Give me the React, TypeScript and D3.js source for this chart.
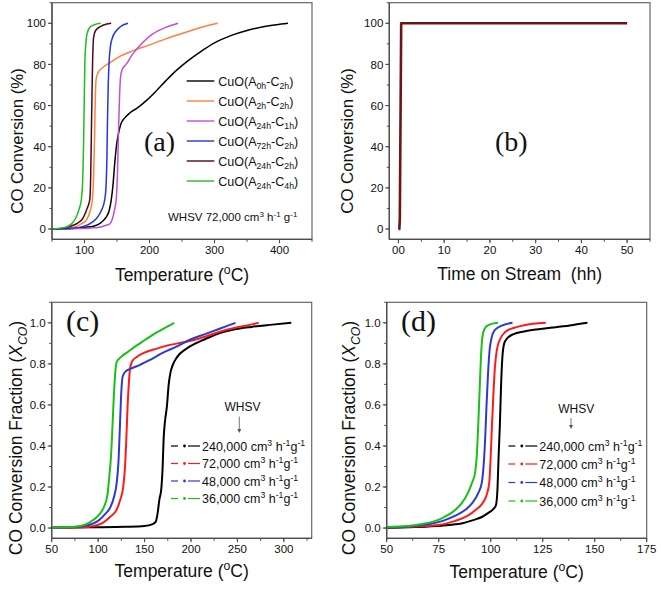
import React from 'react';
import * as d3 from 'd3';

const FONT = '"Liberation Sans", Arial, Helvetica, sans-serif';
const SERIF = '"Liberation Serif", "Times New Roman", serif';

type Pt = [number, number];

// ---------- Panel (a): light-off curves, CO conversion (%) vs temperature (°C)
const aA0hC2h: Pt[] = [[50,0],[80,0.3],[100,0.8],[115,1.5],[125,3],[133,5.6],[138,9],[141,13.8],[144,22],[146,30],[149,40],[152,46],[156,51],[162,54],[170,56.5],[182,59],[195,62.4],[210,67],[225,72],[241,77],[260,82],[280,86.5],[300,90.5],[325,94],[350,96.5],[375,98.3],[395,99.3],[413,100]];
const aA2hC2h: Pt[] = [[50,0],[70,0.3],[85,1],[95,2.5],[102,4],[108,8],[112,14],[114,25],[115.5,45],[116.5,62],[118,73],[121,76],[128,78.5],[140,81],[155,84],[175,86.7],[200,89.5],[225,92.4],[250,95],[276,97.7],[290,98.9],[305,100]];
const aA24hC1h: Pt[] = [[50,0],[90,0.2],[110,0.5],[125,1],[133,1.8],[138.5,2.4],[143,5],[146,9],[149,15],[151,30],[152.5,50],[154,65],[155.5,74],[158,77.5],[164,80],[174,85],[190,90.8],[205,94.8],[225,98],[244,100]];
const aA72hC2h: Pt[] = [[50,0],[70,0.2],[92,0.8],[105,2],[118,5],[126,9],[131,14],[133,20],[134.5,35],[135.5,55],[136.5,70],[138,82],[140,89],[143,93],[148,96],[155,98.3],[167,100]];
const aA24hC2h: Pt[] = [[50,0],[65,0.3],[80,1.5],[90,3],[97,5],[104,10],[108,14],[109.5,25],[110.5,45],[111.5,65],[112.5,82],[114,93],[117,96.5],[125,98.5],[133,99.5],[141,100]];
const aA24hC4h: Pt[] = [[50,0],[60,0.3],[70,0.8],[80,2.5],[87,5.6],[92,10],[95,14],[97,22],[98.5,40],[99.5,60],[100.5,80],[102,90],[104,95],[108,98],[115,99.3],[125,100]];
const aSubA = ['0h', '2h', '24h', '72h', '24h', '24h'];
const aSubC = ['2h', '2h', '1h', '2h', '2h', '4h'];
const aColors = ['#000000', '#ff8040', '#c04fd8', '#2338d8', '#4a0a18', '#22bb22'];
const aXTicks = [100, 200, 300, 400];
const aYTicks = [0, 20, 40, 60, 80, 100];

// ---------- Panel (b): stability, CO conversion (%) vs time on stream
const bSeries: Pt[] = [[0,0],[0.2,0],[0.3,5],[0.6,100],[10,100],[20,100],[30,100],[40,100],[50,100]];
const bXTicks = [0, 10, 20, 30, 40, 50];
const bXLabels = ['00', '10', '20', '30', '40', '50'];
const bYTicks = [0, 20, 40, 60, 80, 100];

// ---------- Panel (c): X_CO vs temperature, four WHSV
const c240k: Pt[] = [[50,0.003],[100,0.004],[130,0.006],[150,0.01],[158,0.018],[162,0.03],[164,0.07],[166,0.14],[168,0.19],[169.5,0.3],[170.5,0.43],[172,0.52],[174,0.59],[176,0.7],[178,0.76],[180,0.79],[185,0.833],[195,0.874],[205,0.9],[215,0.92],[228,0.945],[246,0.967],[265,0.98],[285,0.99],[308,1.0]];
const c72k: Pt[] = [[50,0],[80,0.003],[95,0.01],[105,0.025],[113,0.055],[120,0.09],[124,0.14],[127,0.2],[129,0.3],[130.5,0.45],[131.8,0.6],[133,0.7],[134.5,0.78],[137,0.815],[142,0.835],[150,0.855],[160,0.87],[175,0.89],[192,0.905],[210,0.925],[230,0.955],[250,0.978],[263,0.99],[273,1.0]];
const c48k: Pt[] = [[50,0],[75,0.005],[90,0.015],[100,0.035],[108,0.07],[113,0.1],[117,0.15],[120,0.22],[122,0.33],[123.5,0.5],[124.8,0.65],[126.5,0.74],[130,0.765],[137,0.78],[145,0.795],[156,0.82],[170,0.855],[185,0.885],[200,0.92],[215,0.945],[230,0.97],[248,1.0]];
const c36k: Pt[] = [[50,0.002],[70,0.005],[85,0.015],[95,0.04],[102,0.07],[106,0.1],[110,0.16],[112,0.25],[114,0.36],[115.5,0.5],[117,0.65],[118.5,0.76],[120,0.81],[125,0.835],[131,0.855],[140,0.885],[150,0.915],[160,0.945],[170,0.97],[182,1.0]];
const cXTicks = [50, 100, 150, 200, 250, 300];
const cdYTicks = [0, 0.2, 0.4, 0.6, 0.8, 1.0];

// ---------- Panel (d)
const d240k: Pt[] = [[50,0],[60,0.004],[70,0.008],[80,0.015],[87,0.025],[92,0.04],[96,0.055],[99,0.075],[101,0.09],[102.5,0.11],[103.3,0.2],[103.8,0.35],[104.4,0.5],[105,0.7],[105.6,0.83],[106.5,0.9],[108,0.925],[111,0.945],[116,0.958],[122,0.968],[130,0.977],[138,0.987],[146.5,1.0]];
const d72k: Pt[] = [[50,0],[65,0.008],[75,0.015],[83,0.035],[89,0.06],[93,0.09],[96,0.12],[98,0.16],[99.3,0.22],[100,0.35],[100.6,0.5],[101.3,0.65],[102,0.78],[103,0.87],[104.5,0.92],[107,0.955],[111,0.975],[116,0.988],[126.5,1.0]];
const d48k: Pt[] = [[50,0],[60,0.008],[70,0.018],[77,0.035],[83,0.06],[88,0.09],[91,0.12],[94,0.17],[95.7,0.22],[96.7,0.32],[97.4,0.45],[98,0.6],[98.7,0.75],[99.5,0.87],[100.5,0.93],[102,0.965],[105,0.985],[110.5,1.0]];
const d36k: Pt[] = [[50,0.005],[60,0.01],[67,0.02],[72,0.03],[77,0.05],[82,0.08],[86,0.12],[89,0.17],[91,0.22],[92.5,0.27],[93.3,0.35],[94,0.5],[94.7,0.68],[95.3,0.83],[96,0.93],[97,0.97],[99,0.99],[103.5,1.0]];
const dXTicks = [50, 75, 100, 125, 150, 175];

const whsvLabels = ['240,000', '72,000', '48,000', '36,000'];
const whsvColors = ['#000000', '#ff1a1a', '#2b3bd0', '#18c018'];

type Part = { t: string; sub?: boolean; sup?: boolean; it?: boolean };

function rich(parts: Part[], fs: number) {
  let off = 0;
  return parts.map((p, i) => {
    const target = p.sub ? 0.3 * fs : p.sup ? -0.38 * fs : 0;
    const dy = target - off;
    off = target;
    return (
      <tspan key={i} dy={dy} fontSize={p.sub || p.sup ? fs * 0.7 : fs} fontStyle={p.it ? 'italic' : undefined}>
        {p.t}
      </tspan>
    );
  });
}

type Box = { l: number; r: number; t: number; b: number };

const TICK_FS = 11.5;

function Frame(props: {
  box: Box;
  x: d3.ScaleLinear<number, number>;
  y: d3.ScaleLinear<number, number>;
  xTicks: number[];
  xLabels?: string[];
  xMinorStep: number;
  yTicks: number[];
  yFmt: (v: number) => string;
  yMinorStep: number;
}) {
  const { box, x, y, xTicks, xLabels, xMinorStep, yTicks, yFmt, yMinorStep } = props;
  const [x0, x1] = x.domain();
  const [y0, y1] = y.domain();
  const xMinor = d3.range(Math.ceil(x0 / xMinorStep) * xMinorStep, x1 + 1e-9, xMinorStep);
  const yMinor = d3.range(Math.ceil(y0 / yMinorStep - 1e-9) * yMinorStep, y1 + 1e-9, yMinorStep);
  const ax = '#4d4d4d';
  return (
    <g>
      <rect x={box.l} y={box.t} width={box.r - box.l} height={box.b - box.t} fill="none" stroke="#666" strokeWidth={1.2} />
      <line x1={box.l} x2={box.l} y1={box.t} y2={box.b} stroke={ax} strokeWidth={1.3} />
      <line x1={box.l} x2={box.r} y1={box.b} y2={box.b} stroke={ax} strokeWidth={1.3} />
      {xMinor.map((v, i) => (
        <line key={'xm' + i} x1={x(v)} x2={x(v)} y1={box.b} y2={box.b + 2.5} stroke={ax} strokeWidth={1} />
      ))}
      {xTicks.map((v, i) => (
        <g key={'xt' + i}>
          <line x1={x(v)} x2={x(v)} y1={box.b} y2={box.b + 4} stroke={ax} strokeWidth={1.1} />
          <text x={x(v)} y={box.b + 14.8} textAnchor="middle" fontFamily={FONT} fontSize={TICK_FS} fill="#111">
            {xLabels ? xLabels[i] : String(v)}
          </text>
        </g>
      ))}
      {yMinor.map((v, i) => (
        <line key={'ym' + i} x1={box.l - 2.5} x2={box.l} y1={y(v)} y2={y(v)} stroke={ax} strokeWidth={1} />
      ))}
      {yTicks.map((v, i) => (
        <g key={'yt' + i}>
          <line x1={box.l - 4} x2={box.l} y1={y(v)} y2={y(v)} stroke={ax} strokeWidth={1.1} />
          <text x={box.l - 6} y={y(v)} dy="0.36em" textAnchor="end" fontFamily={FONT} fontSize={TICK_FS} fill="#111">
            {yFmt(v)}
          </text>
        </g>
      ))}
    </g>
  );
}

function Curves(props: { series: Pt[][]; colors: string[]; x: any; y: any; width: number; curve?: any }) {
  const line = d3
    .line<Pt>()
    .x((d) => props.x(d[0]))
    .y((d) => props.y(d[1]))
    .curve(props.curve || d3.curveMonotoneX);
  return (
    <g>
      {props.series.map((s, i) => (
        <path key={i} d={line(s) || ''} fill="none" stroke={props.colors[i]} strokeWidth={props.width} strokeLinejoin="round" />
      ))}
    </g>
  );
}

function WhsvLegend(props: { x0: number; rows: number[]; titleX: number; titleY: number; arrowX: number; arrowY0: number; arrowY1: number }) {
  const { x0, rows, titleX, titleY, arrowX, arrowY0, arrowY1 } = props;
  return (
    <g fontFamily={FONT}>
      <text x={titleX} y={titleY} textAnchor="middle" fontSize={12} fill="#111">WHSV</text>
      <line x1={arrowX} x2={arrowX} y1={arrowY0} y2={arrowY1 - 3} stroke="#555" strokeWidth={0.8} />
      <path d={`M${arrowX - 2},${arrowY1 - 4} L${arrowX + 2},${arrowY1 - 4} L${arrowX},${arrowY1} Z`} fill="#555" />
      {rows.map((ry, i) => (
        <g key={i}>
          <line x1={x0} x2={x0 + 7} y1={ry} y2={ry} stroke={whsvColors[i]} strokeWidth={1.2} />
          <circle cx={x0 + 13.5} cy={ry} r={1.4} fill={whsvColors[i]} />
          <line x1={x0 + 17} x2={x0 + 29} y1={ry} y2={ry} stroke={whsvColors[i]} strokeWidth={1.2} />
          <text x={x0 + 31} y={ry + 4.5} fontSize={12.5} fill="#111">
            {rich(
              [
                { t: whsvLabels[i] + ' cm' },
                { t: '3', sup: true },
                { t: ' h' },
                { t: '-1', sup: true },
                { t: 'g' },
                { t: '-1', sup: true },
              ],
              12.5
            )}
          </text>
        </g>
      ))}
    </g>
  );
}

const tempTitle = (fs: number) => rich([{ t: 'Temperature (' }, { t: 'o', sup: true }, { t: 'C)' }], fs);
const fracTitle = (fs: number) =>
  rich([{ t: 'CO Conversion Fraction (' }, { t: 'X', it: true }, { t: 'CO', sub: true, it: true }, { t: ')' }], fs);

export default function App() {
  // Panel boxes
  const bxA: Box = { l: 52, r: 312, t: 2.7, b: 239.3 };
  const bxB: Box = { l: 389.3, r: 650, t: 2.7, b: 239.3 };
  const bxC: Box = { l: 51.7, r: 311.7, t: 302.3, b: 538.3 };
  const bxD: Box = { l: 386.7, r: 646.7, t: 302.3, b: 538.3 };

  const xA = d3.scaleLinear().domain([50, 450]).range([bxA.l, bxA.r]);
  const yA = d3.scaleLinear().domain([-5, 110]).range([bxA.b, bxA.t]);
  const xB = d3.scaleLinear().domain([-2, 55]).range([bxB.l, bxB.r]);
  const yB = d3.scaleLinear().domain([-5, 110]).range([bxB.b, bxB.t]);
  const xC = d3.scaleLinear().domain([50, 330]).range([bxC.l, bxC.r]);
  const yC = d3.scaleLinear().domain([-0.05, 1.1]).range([bxC.b, bxC.t]);
  const xD = d3.scaleLinear().domain([50, 175]).range([bxD.l, bxD.r]);
  const yD = d3.scaleLinear().domain([-0.05, 1.1]).range([bxD.b, bxD.t]);

  const aSeries = [aA0hC2h, aA2hC2h, aA24hC1h, aA72hC2h, aA24hC2h, aA24hC4h];
  const cSeries = [c240k, c72k, c48k, c36k];
  const dSeries = [d240k, d72k, d48k, d36k];
  const fmt1 = d3.format('.1f');

  return (
    <svg width={661} height={591} style={{ position: 'absolute', left: 0, top: 0, background: '#fff' }}>
      <rect x={0} y={0} width={661} height={591} fill="#fff" />

      {/* ---------- (a) ---------- */}
      <Curves series={aSeries} colors={aColors} x={xA} y={yA} width={1.5} />
      <Frame box={bxA} x={xA} y={yA} xTicks={aXTicks} xMinorStep={50} yTicks={aYTicks} yFmt={(v) => String(v)} yMinorStep={10} />
      <g fontFamily={FONT}>
        {aColors.map((c, i) => {
          const ry = 81 + i * 20;
          return (
            <g key={i}>
              <line x1={186.7} x2={214.3} y1={ry} y2={ry} stroke={c} strokeWidth={1.4} />
              <text x={218.3} y={ry + 4.5} fontSize={12.5} fill="#111">
                {rich([{ t: 'CuO(A' }, { t: aSubA[i], sub: true }, { t: '-C' }, { t: aSubC[i], sub: true }, { t: ')' }], 12.5)}
              </text>
            </g>
          );
        })}
        <text x={168} y={221} fontSize={11.5} fill="#111">
          {rich([{ t: 'WHSV 72,000 cm' }, { t: '3', sup: true }, { t: ' h' }, { t: '-1', sup: true }, { t: ' g' }, { t: '-1', sup: true }], 11.5)}
        </text>
        <text x={(bxA.l + bxA.r) / 2} y={281} textAnchor="middle" fontSize={17.5} fill="#111">{tempTitle(17.5)}</text>
        <text transform={`translate(23,141) rotate(-90)`} textAnchor="middle" fontSize={16.8} fill="#111">CO Conversion (%)</text>
      </g>
      <text x={144} y={151} fontFamily={SERIF} fontSize={28} fill="#111">(a)</text>

      {/* ---------- (b) ---------- */}
      <Curves series={[bSeries]} colors={['#6e1414']} x={xB} y={yB} width={2.6} curve={d3.curveLinear} />
      <Frame box={bxB} x={xB} y={yB} xTicks={bXTicks} xLabels={bXLabels} xMinorStep={5} yTicks={bYTicks} yFmt={(v) => String(v)} yMinorStep={10} />
      <g fontFamily={FONT}>
        <text x={(bxB.l + bxB.r) / 2} y={279.5} textAnchor="middle" fontSize={17.5} fill="#111" style={{ whiteSpace: 'pre' }}>
          {'Time on Stream  (hh)'}
        </text>
        <text transform={`translate(353,141) rotate(-90)`} textAnchor="middle" fontSize={16.8} fill="#111">CO Conversion (%)</text>
      </g>
      <text x={495} y={151} fontFamily={SERIF} fontSize={28} fill="#111">(b)</text>

      {/* ---------- (c) ---------- */}
      <Curves series={cSeries} colors={whsvColors} x={xC} y={yC} width={2} />
      <Frame box={bxC} x={xC} y={yC} xTicks={cXTicks} xMinorStep={25} yTicks={cdYTicks} yFmt={fmt1} yMinorStep={0.1} />
      <WhsvLegend x0={171} rows={[446, 463.5, 481, 498.5]} titleX={242.5} titleY={411} arrowX={239.3} arrowY0={416.5} arrowY1={433} />
      <g fontFamily={FONT}>
        <text x={(bxC.l + bxC.r) / 2} y={577} textAnchor="middle" fontSize={17.5} fill="#111">{tempTitle(17.5)}</text>
        <text transform={`translate(22,438) rotate(-90)`} textAnchor="middle" fontSize={17.5} fill="#111">{fracTitle(17.5)}</text>
      </g>
      <text x={66} y={331} fontFamily={SERIF} fontSize={30} fill="#111">(c)</text>

      {/* ---------- (d) ---------- */}
      <Curves series={dSeries} colors={whsvColors} x={xD} y={yD} width={2} />
      <Frame box={bxD} x={xD} y={yD} xTicks={dXTicks} xMinorStep={12.5} yTicks={cdYTicks} yFmt={fmt1} yMinorStep={0.1} />
      <WhsvLegend x0={508.3} rows={[446, 464, 482.5, 501]} titleX={576.3} titleY={412.5} arrowX={571} arrowY0={418} arrowY1={429} />
      <g fontFamily={FONT}>
        <text x={(bxD.l + bxD.r) / 2} y={578} textAnchor="middle" fontSize={17.5} fill="#111">{tempTitle(17.5)}</text>
        <text transform={`translate(355,438) rotate(-90)`} textAnchor="middle" fontSize={17.5} fill="#111">{fracTitle(17.5)}</text>
      </g>
      <text x={401} y={331} fontFamily={SERIF} fontSize={30} fill="#111">(d)</text>
    </svg>
  );
}
